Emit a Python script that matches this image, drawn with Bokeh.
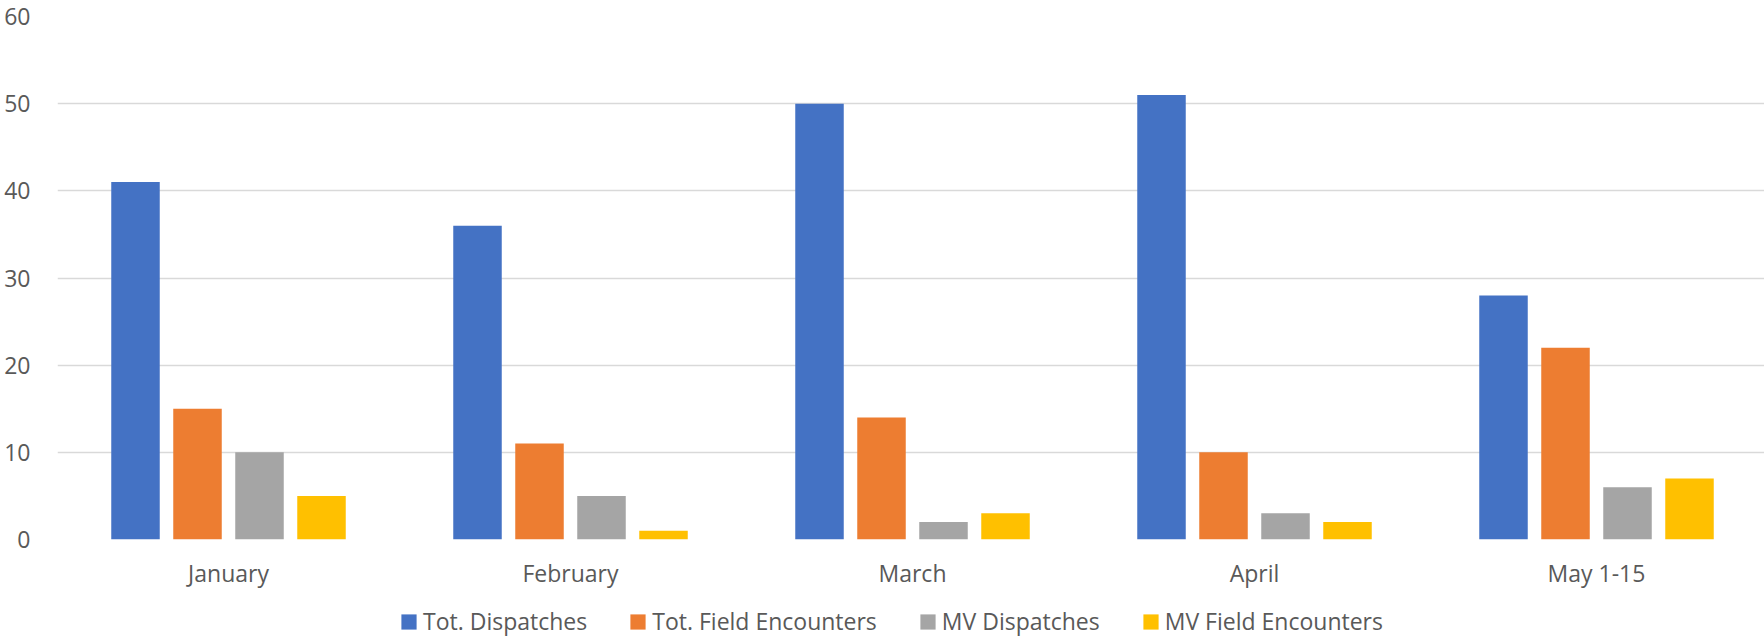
from bokeh.plotting import figure
from bokeh.layouts import column
from bokeh.models import ColumnDataSource, Range1d, FixedTicker, Legend, LegendItem
from bokeh.transform import dodge
from bokeh.embed import file_html
from bokeh.resources import INLINE

# ---- data ----
months = ["January", "February", "March", "April", "May 1-15"]
tot_dispatches = [41, 36, 50, 51, 28]
tot_field_encounters = [15, 11, 14, 10, 22]
mv_dispatches = [10, 5, 2, 3, 6]
mv_field_encounters = [5, 1, 3, 2, 7]
series_names = ["Tot. Dispatches", "Tot. Field Encounters", "MV Dispatches", "MV Field Encounters"]
series_colors = ["#4472C4", "#ED7D31", "#A5A5A5", "#FFC000"]
y_ticks = [0, 10, 20, 30, 40, 50, 60]

FONT = "Open Sans"
TXT = "#595959"
GRID = "#D9D9D9"

src = ColumnDataSource(dict(
    idx=list(range(len(months))),
    s0=tot_dispatches, s1=tot_field_encounters, s2=mv_dispatches, s3=mv_field_encounters,
))

W = 1764
H1, H2 = 594, 43
left, top = 57, 16
frame_h = 523
frame_w = W - left
unit_px = 342.0
p = figure(
    width=W, height=H1,
    x_range=Range1d(-0.5, -0.5 + frame_w / unit_px),
    y_range=Range1d(0, 60),
    output_backend="svg", toolbar_location=None,
    min_border_left=left, min_border_right=0, min_border_top=top,
    min_border_bottom=H1 - top - frame_h,
    background_fill_color="white", border_fill_color="white",
)
p.outline_line_color = None

step = 62.0 / unit_px
bw = 48.5 / unit_px
for i, color in enumerate(series_colors):
    p.vbar(x=dodge("idx", (i - 1.5) * step, range=p.x_range), top="s%d" % i,
           width=bw, source=src, fill_color=color, line_color=None)

# y axis
p.yaxis.ticker = FixedTicker(ticks=y_ticks)
p.yaxis.axis_line_color = None
p.yaxis.major_tick_line_color = None
p.yaxis.minor_tick_line_color = None
p.yaxis.major_label_standoff = 21
p.yaxis.major_label_text_font = FONT
p.yaxis.major_label_text_font_size = "23px"
p.yaxis.major_label_text_color = TXT

# x axis
p.xaxis.ticker = FixedTicker(ticks=list(range(len(months))))
p.xaxis.major_label_overrides = {i: m for i, m in enumerate(months)}
p.xaxis.axis_line_color = None
p.xaxis.major_tick_line_color = None
p.xaxis.minor_tick_line_color = None
p.xaxis.major_label_standoff = 11
p.xaxis.major_label_text_font = FONT
p.xaxis.major_label_text_font_size = "23px"
p.xaxis.major_label_text_color = TXT

p.xgrid.grid_line_color = None
p.ygrid.grid_line_color = GRID
p.ygrid.grid_line_width = 1.5

# ---- legend strip: same series & colours; its ranges keep those bars far out of view ----
lg = figure(
    width=W, height=H2, output_backend="svg", toolbar_location=None,
    x_axis_location=None, y_axis_location=None,
    x_range=Range1d(1000, 1001), y_range=Range1d(1000, 1001),
    min_border=0, min_border_left=0, min_border_right=0, min_border_top=0, min_border_bottom=0,
    background_fill_color="white", border_fill_color="white",
)
lg.outline_line_color = None
lg.xgrid.grid_line_color = None
lg.ygrid.grid_line_color = None
items = []
for i, (name, color) in enumerate(zip(series_names, series_colors)):
    r = lg.vbar(x="idx", top="s%d" % i, width=bw, source=src, fill_color=color, line_color=None)
    items.append(LegendItem(label=name, renderers=[r]))

legend = Legend(
    items=items, orientation="horizontal", location=(342, 0),
    padding=0, margin=0, spacing=41,
    glyph_width=19, glyph_height=19, label_standoff=5,
    label_text_font=FONT, label_text_font_size="23px", label_text_color=TXT,
    background_fill_alpha=0, border_line_alpha=0,
)
lg.add_layout(legend, "center")

layout = column(p, lg, spacing=0)
open("out.html", "w").write(file_html(layout, INLINE))
